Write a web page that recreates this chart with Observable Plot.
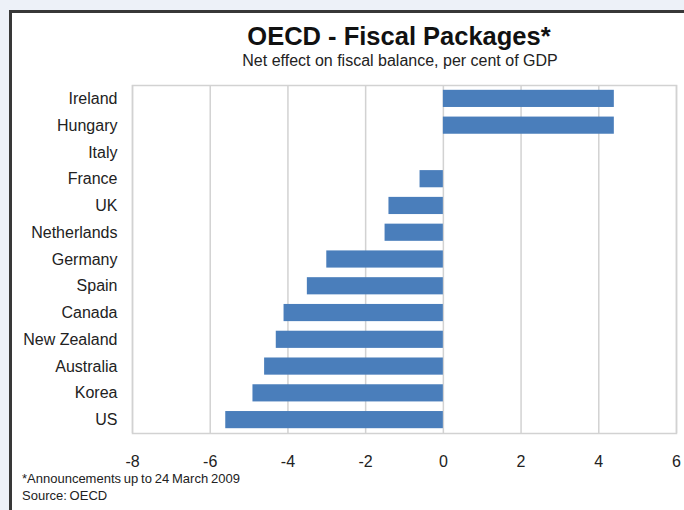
<!DOCTYPE html>
<html>
<head>
<meta charset="utf-8">
<script src="https://cdn.jsdelivr.net/npm/d3@7"></script>
<script src="https://cdn.jsdelivr.net/npm/@observablehq/plot@0.6"></script>
<style>
  html, body { margin: 0; padding: 0; width: 684px; height: 510px; overflow: hidden; background: #edf1f8; font-family: "Liberation Sans", Arial, sans-serif; }
  #panel { position: absolute; left: 9px; top: 10px; width: 700px; height: 520px; background: #fff; border-left: 3px solid #383838; border-top: 3px solid #383838; box-sizing: border-box; }
  #title { position: absolute; left: 0; width: 798px; top: 21px; text-align: center; font-weight: bold; font-size: 25.5px; color: #111; line-height: 30px; }
  #subtitle { position: absolute; left: 0; width: 800px; top: 52px; text-align: center; font-size: 16px; color: #222; line-height: 18px; }
  #chart { position: absolute; left: 0; top: 72px; line-height: 0; }
  #chart svg { display: block; }
  .note { position: absolute; left: 22px; font-size: 13px; color: #222; line-height: 16px; word-spacing: -0.8px; }
</style>
</head>
<body>
<div id="panel"></div>
<div id="title">OECD - Fiscal Packages*</div>
<div id="subtitle">Net effect on fiscal balance, per cent of GDP</div>
<div id="chart"></div>
<div class="note" style="top:471px">*Announcements up to 24 March 2009</div>
<div class="note" style="top:488px">Source: OECD</div>
<script>
const countries = ["Ireland", "Hungary", "Italy", "France", "UK", "Netherlands", "Germany", "Spain", "Canada", "New Zealand", "Australia", "Korea", "US"];
const values = [4.4, 4.4, 0, -0.6, -1.4, -1.5, -3.0, -3.5, -4.1, -4.3, -4.6, -4.9, -5.6];
const xTicks = [-8, -6, -4, -2, 0, 2, 4, 6];

const data = countries.map((c, i) => ({country: c, value: values[i]}));

const chart = Plot.plot({
  width: 684,
  height: 401,
  marginTop: 13,
  marginBottom: 40,
  marginLeft: 132,
  marginRight: 8,
  style: {fontFamily: "'Liberation Sans', Arial, sans-serif", fontSize: "16px", color: "#222", background: "transparent"},
  x: {domain: [-8, 6], ticks: xTicks, tickSize: 0, tickPadding: 22, label: null, tickFormat: d => d < 0 ? "-" + Math.abs(d) : String(d)},
  y: {domain: countries, padding: 0, round: false, tickSize: 0, tickPadding: 15, label: null},
  marks: [
    Plot.ruleX(xTicks, {stroke: "#d2d2d2", strokeWidth: 1.5}),
    Plot.barX(data, {y: "country", x1: 0, x2: "value", fill: "#4a7ebb", insetTop: 4.8, insetBottom: 4.8}),
    Plot.frame({stroke: "#d2d2d2", strokeWidth: 1.5})
  ]
});
document.getElementById("chart").appendChild(chart);
</script>
</body>
</html>
